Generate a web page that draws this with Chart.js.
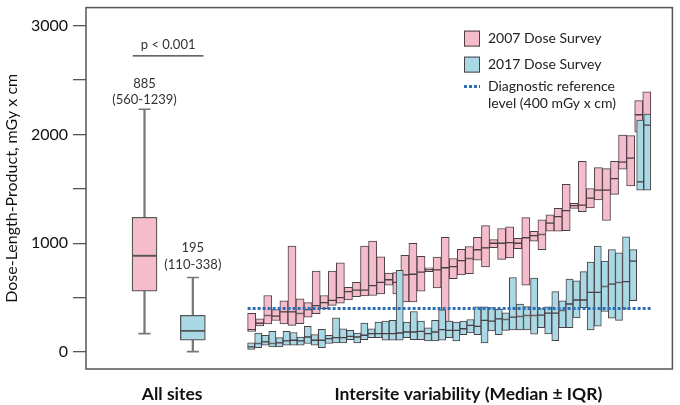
<!DOCTYPE html>
<html lang="en">
<head>
<meta charset="UTF-8">
<title>Dose-Length-Product</title>
<script src="https://cdn.jsdelivr.net/npm/chart.js"></script>
<style>
  body { margin: 0; background: #fff; }
</style>
</head>
<body>
<canvas id="chart" width="680" height="405"></canvas>
<script>
// All sites: min, q1, median, q3, max
const allSites2007 = [170, 560, 885, 1239, 2230];
const allSites2017 = [5, 110, 195, 338, 685];
const allSitesText = [['885', '(560-1239)'], ['195', '(110-338)']];
const pValueText = 'p < 0.001';

// Intersite variability, 2007 dose survey (sites sorted by median)
const q1_2007  = [191, 240, 260, 290, 260, 245, 262, 320, 352, 400, 430, 450, 480, 510, 515, 520, 535, 615, 535, 460,
                  460, 560, 740, 590, 245, 675, 710, 720, 845, 782, 960, 852, 865, 950, 615, 1018, 940, 1110, 1110, 1115,
                  1320, 1290, 1325, 1397, 1209, 1448, 1680, 1527, 2020, 1685];
const med_2007 = [206, 265, 336, 330, 370, 370, 355, 390, 427, 455, 475, 500, 555, 570, 570, 610, 640, 665, 640, 710,
                  715, 735, 755, 755, 775, 785, 840, 860, 940, 958, 1000, 1000, 1005, 1000, 1050, 1070, 1080, 1185, 1245, 1300,
                  1345, 1350, 1415, 1488, 1488, 1594, 1745, 1782, 2180, 1930];
const q3_2007  = [357, 305, 520, 390, 470, 975, 490, 455, 745, 520, 745, 820, 595, 640, 975, 1020, 875, 725, 730, 890,
                  1000, 880, 775, 873, 1055, 860, 945, 970, 1055, 1162, 1033, 1135, 1150, 1045, 1235, 1109, 1215, 1260, 1320, 1540,
                  1367, 1752, 1503, 1694, 1685, 1752, 1994, 1988, 2310, 2390];

// Intersite variability, 2017 dose survey
const q1_2017  = [24, 42, 64, 48, 48, 64, 64, 64, 79, 64, 42, 79, 85, 85, 115, 85, 115, 133, 133, 109,
                  109, 109, 133, 115, 115, 103, 103, 109, 133, 103, 161, 176, 161, 85, 194, 161, 200, 203, 203, 203,
                  164, 224, 167, 106, 224, 224, 315, 409, 203, 239, 373, 312, 291, 394, 473, 1488, 1488];
const med_2017 = [48, 79, 94, 79, 85, 103, 109, 103, 139, 109, 109, 124, 133, 133, 145, 139, 155, 170, 170, 170,
                  170, 176, 185, 185, 191, 170, 185, 206, 200, 200, 215, 245, 236, 291, 285, 306, 300, 321, 327, 336,
                  336, 340, 358, 358, 382, 442, 479, 479, 548, 548, 603, 624, 639, 648, 836, 1564, 2085];
const q3_2017  = [85, 176, 155, 190, 133, 190, 180, 139, 236, 160, 209, 155, 315, 215, 200, 176, 267, 215, 276, 285,
                  291, 751, 276, 373, 285, 224, 291, 388, 285, 276, 285, 300, 415, 415, 409, 394, 360, 685, 442, 418,
                  679, 400, 415, 555, 470, 670, 655, 739, 827, 973, 836, 942, 912, 1058, 942, 2130, 2185];

const drlValue = 400;
const yTickValues = [0, 500, 1000, 1500, 2000, 2500, 3000];
const xLabels = ['All sites', 'Intersite variability (Median \u00b1 IQR)'];

const pink = '#f5bccb';
const blue = '#a9d9e5';
const edge = '#4a3f44';
const whisker = '#777777';

// site band sits between these fractions of the plot width
const bandLeft = 0.2756, bandRight = 0.9632;
function bandRange(n) {
    const span = n / (bandRight - bandLeft);
    const min = 0.5 - bandLeft * span;
    return { min: min, max: min + span };
}
const rangeP = bandRange(q1_2007.length);
const rangeB = bandRange(q1_2017.length);

// positions on the 0..1 main axis
const boxPos = [0.0998, 0.1822];
const xLabelPos = [0.1469, 0.652];
const pLine = [0.0798, 0.2003];

const siteIdx = arr => arr.map((_, i) => i + 1);
const pairs = (a, b, ax) => a.map((v, i) => ({ x: ax[i], y: [v, b[i]] }));

const idxP = siteIdx(q1_2007);
const idxB = siteIdx(q1_2017);

const siteBar = (label, data, color, axis) => ({
    type: 'bar', label, data, xAxisID: axis,
    backgroundColor: color, borderColor: edge, borderWidth: 1, borderSkipped: false,
    grouped: false, barPercentage: 1, categoryPercentage: 1
});

const boxBar = (data, color) => ({
    type: 'bar', data, xAxisID: 'x',
    backgroundColor: color, borderColor: '#555', borderWidth: 1.3, borderSkipped: false,
    grouped: false, barThickness: 25
});

const whiskerBar = data => ({
    type: 'bar', data, xAxisID: 'x',
    backgroundColor: whisker, borderWidth: 0, grouped: false, barThickness: 1.6
});

const stats = [allSites2007, allSites2017];

const datasets = [
    // blue first so it is painted above the pink
    siteBar('2017 low', pairs(q1_2017, med_2017, idxB), blue, 'xb'),
    siteBar('2017 high', pairs(med_2017, q3_2017, idxB), blue, 'xb'),
    siteBar('2007 low', pairs(q1_2007, med_2007, idxP), pink, 'xp'),
    siteBar('2007 high', pairs(med_2007, q3_2007, idxP), pink, 'xp'),
    {
        type: 'line', label: 'DRL', xAxisID: 'xp', order: -1,
        data: [{ x: 0.5, y: drlValue }, { x: q1_2007.length + 0.5, y: drlValue }],
        borderColor: '#2d6fb3', borderWidth: 3, borderDash: [3, 2], pointRadius: 0
    },
    boxBar(stats.map((s, i) => ({ x: boxPos[i], y: [s[1], s[2]] })), pink),
    boxBar(stats.map((s, i) => ({ x: boxPos[i], y: [s[2], s[3]] })), blue),
    whiskerBar(stats.map((s, i) => ({ x: boxPos[i], y: [s[0], s[1]] }))),
    whiskerBar(stats.map((s, i) => ({ x: boxPos[i], y: [s[3], s[4]] }))),
    {
        type: 'line', xAxisID: 'x', showLine: false,
        data: stats.flatMap((s, i) => [{ x: boxPos[i], y: s[0] }, { x: boxPos[i], y: s[4] }]),
        pointStyle: 'line', pointRadius: 6, pointBorderWidth: 1.6, pointBorderColor: whisker
    },
    {
        type: 'line', xAxisID: 'x',
        data: [{ x: pLine[0], y: 2720 }, { x: pLine[1], y: 2720 }],
        borderColor: '#333', borderWidth: 1.2, pointRadius: 0
    }
];
// box colours: first box pink, second blue (both halves)
datasets[5].backgroundColor = [pink, blue];
datasets[6].backgroundColor = [pink, blue];

const annotations = {
    id: 'annotations',
    afterDatasetsDraw(chart) {
        const { ctx, chartArea: a } = chart;
        const x = chart.scales.x, y = chart.scales.y;
        ctx.save();
        ctx.strokeStyle = '#555';
        ctx.lineWidth = 1.5;
        ctx.strokeRect(a.left, a.top, a.right - a.left, a.bottom - a.top);

        ctx.fillStyle = '#333';
        ctx.font = '13px Lato';
        ctx.textAlign = 'center';
        ctx.textBaseline = 'middle';
        ctx.fillText(pValueText, x.getPixelForValue((pLine[0] + pLine[1]) / 2), y.getPixelForValue(2821));
        const textY = [[2460, 2318], [955, 800]];
        allSitesText.forEach((lines, i) => {
            lines.forEach((t, j) => ctx.fillText(t, x.getPixelForValue(boxPos[i]), y.getPixelForValue(textY[i][j])));
        });

        // legend
        const lx = a.left + 378, ly = a.top + 23;
        ctx.font = '14px Lato';
        ctx.textAlign = 'left';
        ctx.fillStyle = pink; ctx.fillRect(lx, ly, 16, 16);
        ctx.strokeStyle = edge; ctx.lineWidth = 1; ctx.strokeRect(lx + 0.5, ly + 0.5, 15, 15);
        ctx.fillStyle = blue; ctx.fillRect(lx, ly + 26, 16, 16);
        ctx.strokeRect(lx + 0.5, ly + 26.5, 15, 15);
        ctx.strokeStyle = '#2d6fb3'; ctx.lineWidth = 3; ctx.setLineDash([3, 2]);
        ctx.beginPath(); ctx.moveTo(lx, ly + 56); ctx.lineTo(lx + 16, ly + 56); ctx.stroke();
        ctx.setLineDash([]);
        ctx.fillStyle = '#222';
        ctx.fillText('2007 Dose Survey', lx + 24, ly + 8);
        ctx.fillText('2017 Dose Survey', lx + 24, ly + 34);
        ctx.fillText('Diagnostic reference', lx + 24, ly + 56);
        ctx.fillText('level (400 mGy x cm)', lx + 24, ly + 73);
        ctx.restore();
    }
};

new Chart(document.getElementById('chart'), {
    data: { datasets },
    options: {
        responsive: false,
        animation: false,
        layout: { padding: { top: 4, right: 5, left: 0, bottom: 0 } },
        plugins: { legend: { display: false }, tooltip: { enabled: false } },
        scales: {
            x: {
                type: 'linear', min: 0, max: 1, offset: false,
                grid: { display: false },
                border: { display: false },
                ticks: {
                    font: { family: 'Lato', size: 17.5, weight: 'bold' }, color: '#111', padding: 7,
                    autoSkip: false, maxRotation: 0,
                    callback: (v, i) => xLabels[i]
                },
                afterBuildTicks: s => { s.ticks = xLabelPos.map(v => ({ value: v })); },
                afterFit: s => { s.height = 36; s.paddingLeft = 0; s.paddingRight = 0; }
            },
            xp: { type: 'linear', display: false, offset: false, min: rangeP.min, max: rangeP.max },
            xb: { type: 'linear', display: false, offset: false, min: rangeB.min, max: rangeB.max },
            y: {
                min: -155, max: 3164,
                grid: { drawOnChartArea: false, tickLength: 13, color: '#555', lineWidth: 1.3 },
                border: { display: false },
                ticks: {
                    font: { family: 'Lato', size: 16 }, color: '#111', padding: 5,
                    callback: v => (v % 1000 === 0 ? v : '')
                },
                afterBuildTicks: s => { s.ticks = yTickValues.map(v => ({ value: v })); },
                afterFit: s => { s.width = 86; s.paddingTop = 0; s.paddingBottom = 0; },
                title: {
                    display: true, text: 'Dose-Length-Product, mGy x cm',
                    font: { family: 'Lato', size: 16 }, color: '#111', padding: { top: 2, bottom: 0 }
                }
            }
        }
    },
    plugins: [annotations]
});
</script>
</body>
</html>
